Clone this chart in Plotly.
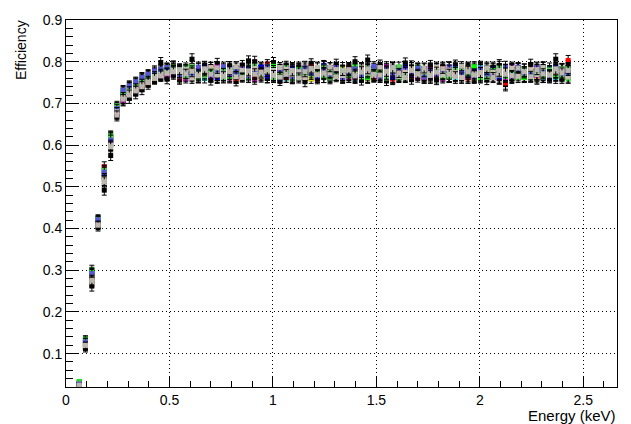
import plotly.graph_objects as go

# Energy bins (keV)
energy = [0.064, 0.094, 0.125, 0.155, 0.185, 0.216, 0.246, 0.276, 0.306, 0.337,
          0.367, 0.397, 0.428, 0.458, 0.488, 0.519, 0.549, 0.579, 0.609, 0.640,
          0.670, 0.700, 0.731, 0.761, 0.791, 0.822, 0.852, 0.882, 0.912, 0.943,
          0.973, 1.003, 1.034, 1.064, 1.094, 1.125, 1.155, 1.185, 1.215, 1.246,
          1.276, 1.306, 1.337, 1.367, 1.397, 1.428, 1.458, 1.488, 1.518, 1.549,
          1.579, 1.609, 1.640, 1.670, 1.700, 1.731, 1.761, 1.791, 1.821, 1.852,
          1.882, 1.912, 1.943, 1.973, 2.003, 2.034, 2.064, 2.094, 2.124, 2.155,
          2.185, 2.215, 2.246, 2.276, 2.306, 2.337, 2.367, 2.397, 2.427]

# Statistical errors per bin
err = [0.004, 0.008, 0.012, 0.008, 0.012, 0.012, 0.010, 0.011, 0.012, 0.011,
       0.012, 0.011, 0.012, 0.012, 0.011, 0.012,
       0.012, 0.011, 0.013, 0.012, 0.011, 0.012, 0.013, 0.011, 0.012, 0.012,
       0.011, 0.012, 0.013, 0.012, 0.011, 0.012, 0.012, 0.011, 0.013, 0.012,
       0.012, 0.011, 0.012, 0.013, 0.011, 0.012, 0.012, 0.011, 0.012, 0.013,
       0.012, 0.011, 0.012, 0.012, 0.013, 0.011, 0.012, 0.012, 0.011, 0.012,
       0.013, 0.012, 0.011, 0.012, 0.012, 0.011, 0.013, 0.012, 0.012, 0.011,
       0.012, 0.014, 0.015, 0.012, 0.011, 0.012, 0.013, 0.012, 0.012, 0.011,
       0.013, 0.012, 0.012]

# Efficiencies (per mille) for each series
eff_white = [26, 122, 280, 412, 515, 602, 683, 718, 725, 738, 748, 755, 763, 768, 770, 775,
             772, 781, 768, 777, 785, 763, 779, 770, 788, 766, 775, 783, 769, 778, 761, 786,
             774, 767, 780, 772, 789, 765, 776, 782, 770, 779, 764, 787, 773, 768, 781, 776,
             762, 784, 771, 778, 766, 790, 774, 769, 783, 761, 777, 786, 772, 768, 780, 775,
             763, 788, 770, 779, 767, 782, 774, 765, 785, 771, 778, 763, 776, 784, 769]
eff_black = [25, 112, 262, 402, 492, 575, 668, 705, 712, 722, 733, 745, 758, 798, 758, 790,
             758, 772, 806, 762, 790, 756, 795, 760, 788, 754, 792, 802, 800, 785, 760, 798,
             755, 790, 762, 787, 752, 796, 765, 789, 758, 794, 760, 786, 800, 757, 804, 762,
             792, 755, 786, 763, 797, 758, 785, 761, 790, 757, 788, 764, 792, 759, 786, 762,
             789, 756, 787, 791, 745, 760, 785, 763, 793, 758, 788, 762, 806, 760, 791]
eff_yellow = [27, 125, 282, 418, 528, 610, 680, 712, 728, 735, 742, 750, 760, 768, 772, 773,
              764, 770, 779, 761, 768, 775, 783, 766, 772, 760, 778, 769, 785, 763, 774, 780,
              762, 771, 767, 784, 776, 759, 770, 781, 765, 773, 786, 762, 777, 768, 760, 775,
              782, 769, 763, 779, 771, 786, 766, 774, 761, 770, 780, 764, 776, 769, 783, 760,
              772, 778, 765, 781, 768, 762, 776, 770, 784, 761, 767, 779, 773, 764, 770]
eff_cyan = [26, 127, 285, 416, 530, 612, 688, 720, 730, 740, 750, 758, 765, 770, 775, 778,
            779, 766, 772, 784, 760, 777, 769, 781, 763, 775, 770, 786, 764, 779, 768, 773,
            782, 761, 776, 769, 771, 784, 762, 775, 780, 767, 771, 777, 760, 783, 766, 772,
            779, 762, 785, 768, 775, 764, 780, 771, 769, 783, 766, 774, 760, 778, 772, 765,
            786, 770, 776, 763, 779, 768, 771, 782, 764, 775, 769, 786, 761, 777, 772]
eff_magenta = [27, 124, 283, 414, 525, 608, 676, 707, 722, 733, 744, 752, 762, 765, 768, 770,
               768, 760, 783, 771, 776, 764, 787, 770, 761, 779, 766, 774, 759, 782, 770, 765,
               778, 784, 762, 775, 767, 780, 771, 763, 786, 774, 768, 761, 781, 772, 777, 764,
               770, 788, 760, 773, 781, 767, 762, 776, 784, 769, 760, 778, 766, 773, 762, 785,
               770, 764, 779, 773, 760, 787, 768, 775, 782, 766, 773, 760, 778, 769, 784]
eff_red = [28, 128, 287, 420, 548, 620, 690, 722, 735, 742, 752, 760, 770, 772, 778, 782,
           761, 775, 782, 766, 770, 787, 763, 778, 772, 760, 784, 771, 765, 779, 794, 768,
           775, 762, 783, 770, 766, 788, 759, 774, 780, 767, 771, 785, 762, 776, 770, 763,
           781, 768, 758, 776, 784, 765, 772, 760, 779, 768, 786, 763, 775, 770, 761, 782,
           766, 778, 772, 760, 749, 781, 769, 764, 777, 785, 762, 771, 768, 775, 803]
eff_blue = [27, 130, 295, 419, 532, 615, 685, 725, 732, 745, 755, 765, 768, 775, 780, 776,
            783, 770, 765, 779, 788, 772, 761, 776, 784, 769, 764, 780, 773, 787, 766, 771,
            760, 778, 785, 767, 774, 781, 763, 790, 770, 776, 768, 782, 765, 779, 771, 785,
            767, 774, 762, 780, 787, 770, 776, 783, 764, 778, 771, 763, 787, 775, 766, 780,
            772, 769, 784, 761, 776, 770, 787, 773, 766, 780, 762, 777, 785, 768, 774]
eff_lime = [33, 135, 300, 425, 538, 622, 692, 728, 738, 748, 758, 762, 772, 778, 783, 785,
            770, 786, 776, 762, 773, 780, 767, 784, 765, 778, 771, 762, 781, 768, 776, 789,
            766, 773, 760, 782, 770, 777, 785, 763, 774, 768, 780, 766, 788, 771, 762, 779,
            773, 767, 784, 761, 770, 778, 786, 765, 772, 780, 763, 770, 782, 767, 775, 788,
            761, 773, 779, 770, 765, 784, 772, 762, 776, 769, 781, 774, 766, 783, 760]
eff_green = [30, 132, 290, 423, 540, 618, 695, 730, 740, 750, 760, 768, 775, 780, 785, 788,
             777, 764, 789, 772, 767, 781, 774, 762, 779, 785, 768, 776, 790, 771, 783, 762,
             770, 786, 775, 764, 780, 768, 773, 787, 761, 782, 776, 769, 774, 763, 785, 770,
             778, 761, 776, 788, 764, 773, 781, 767, 776, 784, 770, 762, 779, 785, 771, 766,
             781, 763, 776, 787, 768, 774, 761, 783, 770, 777, 763, 780, 772, 766, 786]
eff_violet = [27, 128, 292, 421, 535, 612, 688, 732, 742, 752, 762, 770, 778, 782, 786, 780,
              766, 779, 772, 787, 780, 768, 775, 788, 769, 777, 783, 766, 776, 772, 788, 774,
              781, 769, 764, 778, 785, 772, 767, 779, 770, 786, 762, 774, 783, 769, 776, 789,
              764, 780, 771, 767, 779, 774, 784, 763, 776, 770, 780, 788, 767, 773, 779, 763,
              784, 771, 769, 778, 786, 765, 779, 773, 769, 787, 775, 766, 781, 771, 778]
eff_gray1 = [22, 118, 272, 410, 520, 600, 680, 715, 728, 736, 746, 754, 764, 770, 774, 779,
             774, 782, 761, 770, 777, 786, 768, 773, 781, 764, 779, 770, 784, 766, 775, 779,
             763, 782, 769, 776, 762, 779, 787, 770, 773, 781, 767, 778, 770, 785, 773, 766,
             786, 770, 779, 764, 775, 782, 768, 776, 771, 787, 768, 780, 774, 762, 784, 771,
             766, 781, 775, 768, 778, 784, 765, 776, 781, 769, 786, 770, 775, 782, 763]
eff_gray2 = [24, 120, 276, 408, 512, 596, 672, 710, 720, 730, 740, 750, 760, 766, 772, 776,
             781, 771, 777, 766, 783, 770, 785, 765, 776, 788, 762, 778, 770, 775, 781, 767,
             786, 770, 779, 761, 776, 784, 769, 773, 787, 764, 779, 781, 766, 775, 783, 770,
             768, 777, 786, 773, 762, 779, 771, 785, 767, 775, 783, 770, 764, 789, 776, 768,
             774, 785, 762, 779, 770, 767, 785, 776, 764, 781, 771, 768, 783, 773, 779]

series = [
    ("white", eff_white, "#ffffff"),
    ("black", eff_black, "#000000"),
    ("yellow", eff_yellow, "#ffff00"),
    ("cyan", eff_cyan, "#00ffff"),
    ("magenta", eff_magenta, "#ff00ff"),
    ("red", eff_red, "#ff0000"),
    ("blue", eff_blue, "#0000ff"),
    ("lime", eff_lime, "#00ff00"),
    ("green", eff_green, "#59d454"),
    ("violet", eff_violet, "#5954d8"),
    ("gray1", eff_gray1, "#c4beb2"),
    ("gray2", eff_gray2, "#bcb7ad"),
]

fig = go.Figure()
for name, vals, col in series:
    fig.add_trace(go.Scatter(
        x=energy, y=[v / 1000 for v in vals], mode="markers", name=name,
        marker=dict(symbol="square", size=5, color=col, line=dict(width=0)),
        error_y=dict(type="data", array=err, color="black", thickness=1, width=2.5),
        showlegend=False,
    ))

axis_font = dict(family="Liberation Sans, Arial, sans-serif", size=14, color="black")
fig.update_layout(
    width=631, height=424,
    margin=dict(l=66, r=14, t=14, b=37),
    paper_bgcolor="white", plot_bgcolor="white",
    font=axis_font,
    xaxis=dict(
        range=[0, 2.663], tick0=0, dtick=0.5, ticks="inside", ticklen=11, tickwidth=1,
        tickcolor="black", showline=True, linecolor="black", linewidth=1, mirror=True,
        showgrid=True, gridcolor="black", griddash="1px,3px", gridwidth=1, zeroline=False,
        minor=dict(ticks="inside", ticklen=6, dtick=0.1, tick0=0, tickcolor="black", showgrid=False),
        tickfont=axis_font,
    ),
    yaxis=dict(
        range=[0.02, 0.9], tick0=0, dtick=0.1, ticks="inside", ticklen=13, tickwidth=1,
        tickcolor="black", showline=True, linecolor="black", linewidth=1, mirror=True,
        showgrid=True, gridcolor="black", griddash="1px,3px", gridwidth=1, zeroline=False,
        minor=dict(ticks="inside", ticklen=7, dtick=0.02, tick0=0, tickcolor="black", showgrid=False),
        tickfont=axis_font,
    ),
    annotations=[
        dict(text="Efficiency", xref="paper", yref="paper", x=(21 - 66) / 551, y=1 + 2 / 373,
             xanchor="center", yanchor="top", textangle=-90, showarrow=False,
             font=dict(family="Liberation Sans, Arial, sans-serif", size=14, color="black")),
        dict(text="Energy (keV)", xref="paper", yref="paper", x=(618 - 66) / 551, y=(387 - 416) / 373,
             xanchor="right", yanchor="middle", showarrow=False,
             font=dict(family="Liberation Sans, Arial, sans-serif", size=15, color="black")),
    ],
)

fig.write_html("out.html")
